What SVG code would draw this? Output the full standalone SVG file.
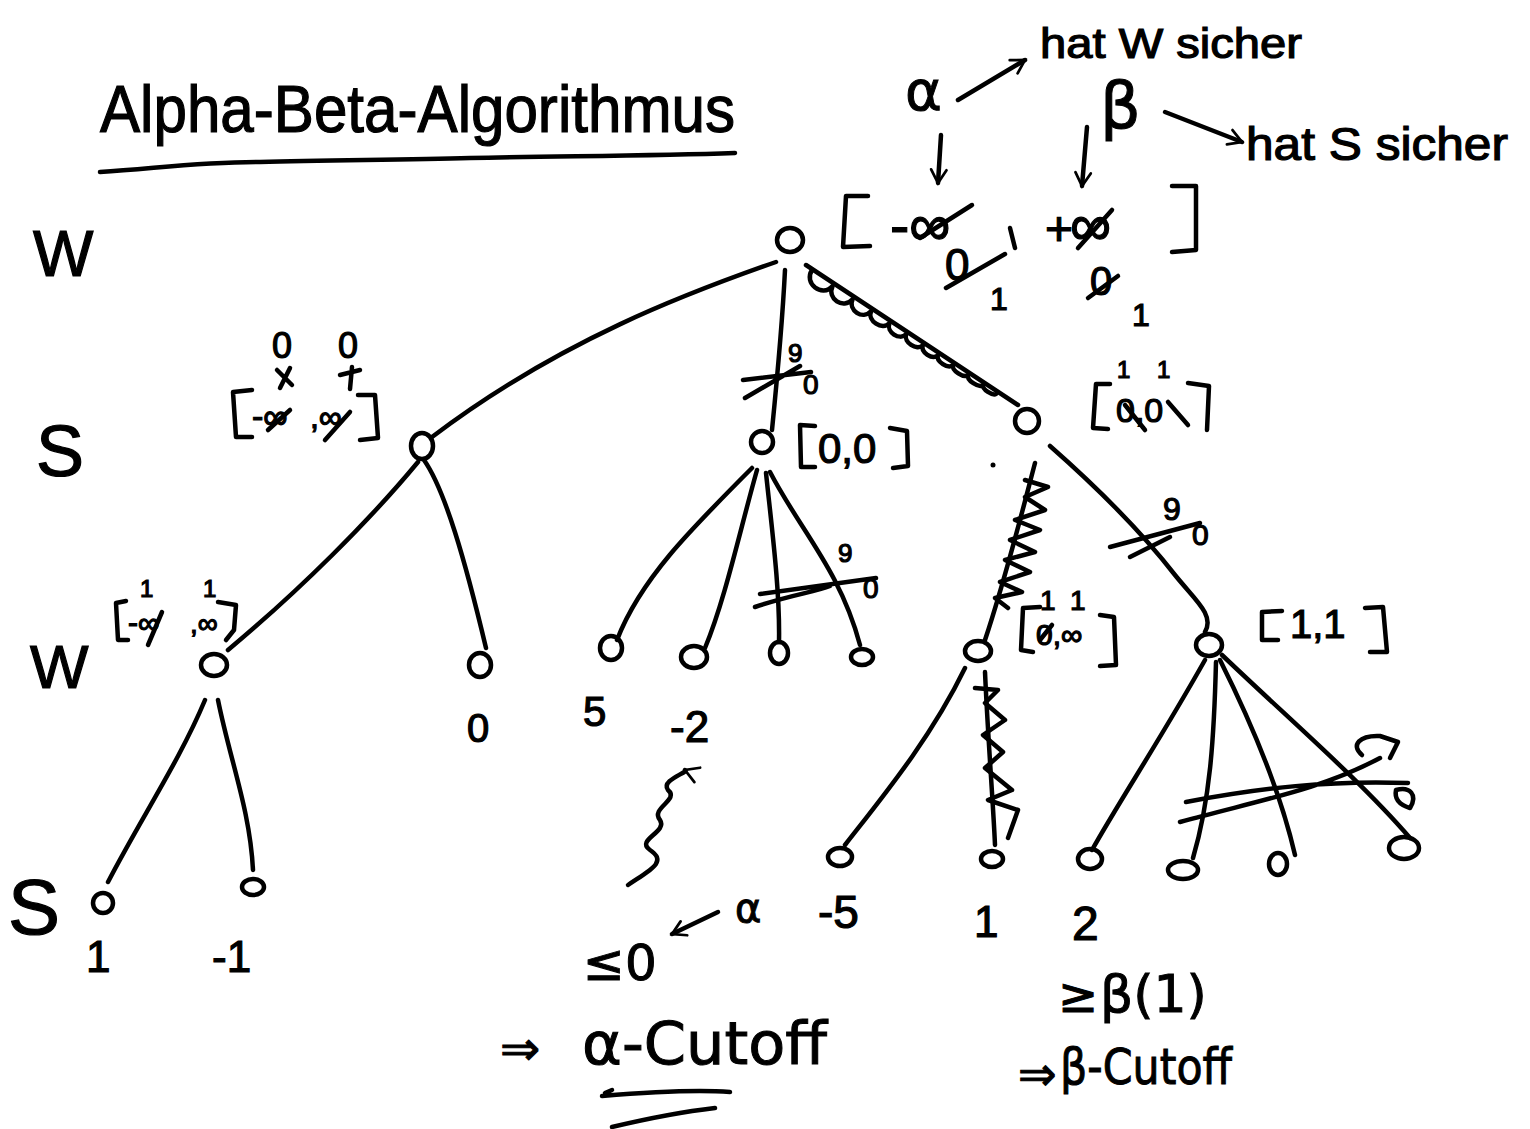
<svg xmlns="http://www.w3.org/2000/svg" width="1530" height="1129" viewBox="0 0 1530 1129">
<style>
.s{fill:none;stroke:#000;stroke-width:4.5;stroke-linecap:round;stroke-linejoin:round}
.n{fill:none;stroke:#000;stroke-width:4.5}
.t{font-family:"Liberation Sans","DejaVu Sans",sans-serif;fill:#000;stroke:#000;stroke-width:1.2}
.m{font-family:"DejaVu Sans","Liberation Sans",sans-serif;fill:#000;stroke:#000;stroke-width:1}
</style>
<defs>
<marker id="ah2" viewBox="0 0 20 20" refX="16" refY="10" markerWidth="22" markerHeight="22" orient="auto" markerUnits="userSpaceOnUse">
<path d="M4,3 L16,10 L4,17" fill="none" stroke="#000" stroke-width="2.5" stroke-linecap="round"/>
</marker>
</defs>
<rect width="1530" height="1129" fill="#fff"/>

<!-- Title -->
<g id="title">
<text class="t" x="100" y="132" font-size="66" textLength="635" lengthAdjust="spacingAndGlyphs">Alpha-Beta-Algorithmus</text>
<path class="s" d="M100,172 C160,168 200,162 260,162 C330,160 400,160 470,158 C560,156 650,156 735,153"/>
</g>

<!-- level labels -->
<g id="levels">
<text class="t" x="33" y="276" font-size="64">W</text>
<text class="t" x="36" y="476" font-size="72">S</text>
<text class="t" x="30" y="688" font-size="62">W</text>
<text class="t" x="8" y="934" font-size="78">S</text>
</g>

<!-- legend -->
<g id="legend">
<text class="m" x="905" y="110" font-size="56">α</text>
<path class="s" d="M958,100 L1025,60" marker-end="url(#ah2)"/>
<text class="t" x="1040" y="58" font-size="42" textLength="262" lengthAdjust="spacingAndGlyphs">hat W sicher</text>
<text class="m" x="1100" y="128" font-size="64">β</text>
<path class="s" d="M1165,112 L1242,142" marker-end="url(#ah2)"/>
<text class="t" x="1246" y="160" font-size="46" textLength="262" lengthAdjust="spacingAndGlyphs">hat S sicher</text>
<path class="s" d="M941,135 L938,183" marker-end="url(#ah2)"/>
<path class="s" d="M1087,127 L1082,186" marker-end="url(#ah2)"/>
</g>

<!-- root interval -->
<g id="root-label">
<path class="s" d="M868,196 L846,196 L843,247 L870,246"/>
<text class="t" x="890" y="245" font-size="58">-∞</text>
<path class="s" d="M920,238 L972,205"/>
<path class="s" d="M1010,228 L1015,248"/>
<text class="t" x="1045" y="245" font-size="48">+</text>
<text class="t" x="1070" y="245" font-size="58">∞</text>
<path class="s" d="M1078,248 L1112,210"/>
<path class="s" d="M1172,186 L1196,186 L1196,250 L1172,252"/>
<text class="t" x="945" y="280" font-size="44">0</text>
<path class="s" d="M946,288 L1005,254"/>
<text class="t" x="990" y="310" font-size="32">1</text>
<text class="t" x="1090" y="295" font-size="40">0</text>
<path class="s" d="M1088,298 L1118,276"/>
<text class="t" x="1132" y="326" font-size="32">1</text>
</g>

<!-- connectors -->
<g id="connectors">
<path class="s" d="M776,262 C690,292 560,340 432,437"/>
<path class="s" d="M785,270 C782,330 776,390 772,430"/>
<path class="s" d="M743,380 L811,372 M745,398 L800,366"/>
<text class="t" x="788" y="362" font-size="26">9</text>
<text class="t" x="803" y="394" font-size="28">0</text>
<path class="s" d="M806,265 L1018,405"/>
<path class="s" transform="translate(812,270) rotate(33.4)" d="M0,0 C0,16 24,18 26,2 C28,16 48,16 50,2 C52,14 70,14 72,2 C74,12 92,12 94,2 C96,11 112,11 114,2 C116,10 132,10 134,2 C136,9 150,9 152,2 C154,8 168,8 170,2 C172,7 186,7 188,2 C190,7 204,7 206,2 C208,6 220,6 222,2"/>

<path class="s" d="M418,462 C370,520 300,590 228,650"/>
<path class="s" d="M424,460 C445,490 465,560 486,648"/>

<path class="s" d="M752,468 C690,530 640,580 617,640"/>
<path class="s" d="M757,470 C740,530 725,600 705,648"/>
<path class="s" d="M766,473 C772,530 780,590 779,642"/>
<path class="s" d="M770,472 C800,530 840,570 860,645"/>
<path class="s" d="M760,594 L876,578 M755,607 C790,595 815,592 830,586"/>
<text class="t" x="838" y="562" font-size="26">9</text>
<text class="t" x="863" y="598" font-size="28">0</text>

<path class="s" d="M1050,446 C1100,490 1140,530 1175,575 C1195,600 1215,615 1205,632"/>
<path class="s" d="M1110,547 L1200,523 M1130,557 L1170,537"/>
<text class="t" x="1163" y="520" font-size="32">9</text>
<text class="t" x="1192" y="545" font-size="30">0</text>

<path class="s" d="M1035,463 C1020,520 1005,580 985,640"/>
<circle cx="993" cy="465" r="2.5" fill="#000"/>
<path class="s" d="M1025,480 L1048,487 L1025,497 L1045,510 L1015,520 L1040,530 L1010,540 L1035,552 L1005,560 L1030,572 L1000,582 L1022,592 L995,598 L1008,608"/>

<path class="s" d="M965,668 C930,740 880,800 845,845"/>
<path class="s" d="M985,672 C988,740 993,800 995,845"/>
<path class="s" d="M975,688 L998,690 L985,703 L1005,720 L983,735 L1003,752 L985,768 L1012,790 L988,800 L1018,810 L1008,838"/>

<path class="s" d="M1205,660 C1160,740 1120,800 1092,850"/>
<path class="s" d="M1216,662 C1214,740 1210,800 1193,858"/>
<path class="s" d="M1220,660 C1250,720 1280,790 1295,855"/>
<path class="s" d="M1222,655 C1290,720 1360,780 1410,838"/>
<path class="s" d="M1186,802 C1260,788 1330,780 1408,783 M1180,822 C1260,800 1320,790 1380,758"/>
<path class="s" d="M1362,755 C1350,745 1360,735 1380,736 L1398,742 L1390,758"/>
<path class="s" d="M1396,790 C1410,786 1418,795 1410,808 C1400,805 1394,800 1396,790"/>

<path class="s" d="M205,700 C180,760 140,820 108,882"/>
<path class="s" d="M218,700 C230,760 250,810 253,870"/>
</g>

<!-- nodes -->
<g id="n-root"><ellipse class="n" cx="790" cy="240" rx="13" ry="12"/></g>
<g id="n-s1"><ellipse class="n" cx="422" cy="446" rx="11" ry="13"/>
<text class="t" x="272" y="358" font-size="36">0</text>
<text class="t" x="338" y="358" font-size="36">0</text>
<path class="s" d="M277,370 L292,385 M290,368 L280,388"/>
<path class="s" d="M340,375 L360,370 M352,367 L350,389"/>
<path class="s" d="M252,390 L233,392 L236,437 L252,437"/>
<text class="t" x="252" y="428" font-size="34">-∞</text>
<path class="s" d="M268,430 L290,410"/>
<text class="t" x="310" y="428" font-size="32">,∞</text>
<path class="s" d="M325,440 L350,412"/>
<path class="s" d="M358,395 L375,395 L378,438 L360,440"/>
</g>
<g id="n-s2"><ellipse class="n" cx="762" cy="442" rx="11" ry="11"/>
<path class="s" d="M815,426 L800,425 L801,467 L815,467"/>
<text class="t" x="818" y="463" font-size="42">0,0</text>
<path class="s" d="M890,428 L907,431 L908,466 L893,468"/>
</g>
<g id="n-s3"><ellipse class="n" cx="1027" cy="421" rx="12" ry="12"/>
<text class="t" x="1117" y="378" font-size="24">1</text>
<text class="t" x="1157" y="378" font-size="24">1</text>
<path class="s" d="M1110,384 L1096,384 L1093,428 L1108,429"/>
<text class="t" x="1116" y="422" font-size="34">0,0</text>
<path class="s" d="M1125,405 L1145,430 M1168,402 L1188,425"/>
<path class="s" d="M1188,383 L1209,386 L1207,430"/>
</g>
<g id="n-w1"><ellipse class="n" cx="214" cy="665" rx="13" ry="11"/>
<text class="t" x="140" y="597" font-size="24">1</text>
<text class="t" x="203" y="597" font-size="24">1</text>
<path class="s" d="M126,601 L116,603 L118,640 L128,640"/>
<text class="t" x="128" y="633" font-size="30">-∞</text>
<path class="s" d="M148,645 L162,612"/>
<text class="t" x="190" y="633" font-size="28">,∞</text>
<path class="s" d="M218,602 L236,605 L234,630 L226,640"/>
</g>
<g id="n-w2"><ellipse class="n" cx="480" cy="665" rx="11" ry="12"/>
<text class="t" x="467" y="742" font-size="40">0</text>
</g>
<g id="n-w3"><ellipse class="n" cx="611" cy="648" rx="11" ry="12"/>
<text class="t" x="583" y="726" font-size="42">5</text>
</g>
<g id="n-w4"><ellipse class="n" cx="694" cy="657" rx="13" ry="11"/>
<text class="t" x="670" y="742" font-size="44">-2</text>
</g>
<g id="n-w5"><ellipse class="n" cx="779" cy="653" rx="9" ry="11"/></g>
<g id="n-w6"><ellipse class="n" cx="862" cy="657" rx="11" ry="8"/></g>
<g id="n-w7"><ellipse class="n" cx="978" cy="651" rx="13" ry="10"/>
<text class="t" x="1040" y="610" font-size="28">1</text>
<text class="t" x="1070" y="610" font-size="28">1</text>
<path class="s" d="M1040,607 L1023,608 L1021,650 L1033,652"/>
<text class="t" x="1036" y="645" font-size="30">0,∞</text>
<path class="s" d="M1040,640 L1052,625"/>
<path class="s" d="M1100,615 L1114,617 L1116,665 L1100,666"/>
</g>
<g id="n-w8"><ellipse class="n" cx="1209" cy="645" rx="13" ry="11"/>
<path class="s" d="M1282,611 L1262,612 L1262,640 L1278,640"/>
<text class="t" x="1290" y="638" font-size="40">1,1</text>
<path class="s" d="M1365,608 L1383,607 L1387,652 L1370,652"/>
</g>
<g id="n-l1"><ellipse class="n" cx="103" cy="903" rx="10" ry="10"/>
<text class="t" x="86" y="972" font-size="44">1</text>
</g>
<g id="n-l2"><ellipse class="n" cx="253" cy="887" rx="11" ry="8"/>
<text class="t" x="212" y="972" font-size="44">-1</text>
</g>
<g id="n-l3"><ellipse class="n" cx="840" cy="857" rx="12" ry="9"/>
<text class="t" x="818" y="928" font-size="46">-5</text>
</g>
<g id="n-l4"><ellipse class="n" cx="992" cy="859" rx="11" ry="8"/>
<text class="t" x="974" y="937" font-size="44">1</text>
</g>
<g id="n-l5"><ellipse class="n" cx="1090" cy="859" rx="12" ry="10"/>
<text class="t" x="1072" y="940" font-size="48">2</text>
</g>
<g id="n-l6"><ellipse class="n" cx="1183" cy="870" rx="15" ry="9"/></g>
<g id="n-l7"><ellipse class="n" cx="1278" cy="864" rx="9" ry="11"/></g>
<g id="n-l8"><ellipse class="n" cx="1404" cy="848" rx="15" ry="11"/></g>

<!-- annotations -->
<g id="annotations">
<path class="s" d="M628,885 C650,870 668,862 650,850 C635,840 668,832 660,820 C650,808 680,800 668,790 C660,780 690,772 685,770" marker-end="url(#ah2)"/>
<text class="m" x="583" y="980" font-size="50">≤0</text>
<path class="s" d="M718,912 L672,934" marker-end="url(#ah2)"/>
<text class="m" x="735" y="922" font-size="40">α</text>
<text class="m" x="1058" y="1012" font-size="48">≥</text>
<text class="m" x="1100" y="1012" font-size="52">β(1)</text>
<text class="m" x="1018" y="1090" font-size="46">⇒</text>
<text class="m" x="1060" y="1084" font-size="50" textLength="172" lengthAdjust="spacingAndGlyphs">β-Cutoff</text>
<text class="m" x="500" y="1065" font-size="48">⇒</text>
<text class="m" x="582" y="1064" font-size="58" textLength="245" lengthAdjust="spacingAndGlyphs">α-Cutoff</text>
<path class="s" d="M602,1096 C650,1092 700,1090 730,1092 M605,1093 L612,1090"/>
<path class="s" d="M612,1127 C650,1118 680,1112 715,1108"/>
</g>
</svg>
